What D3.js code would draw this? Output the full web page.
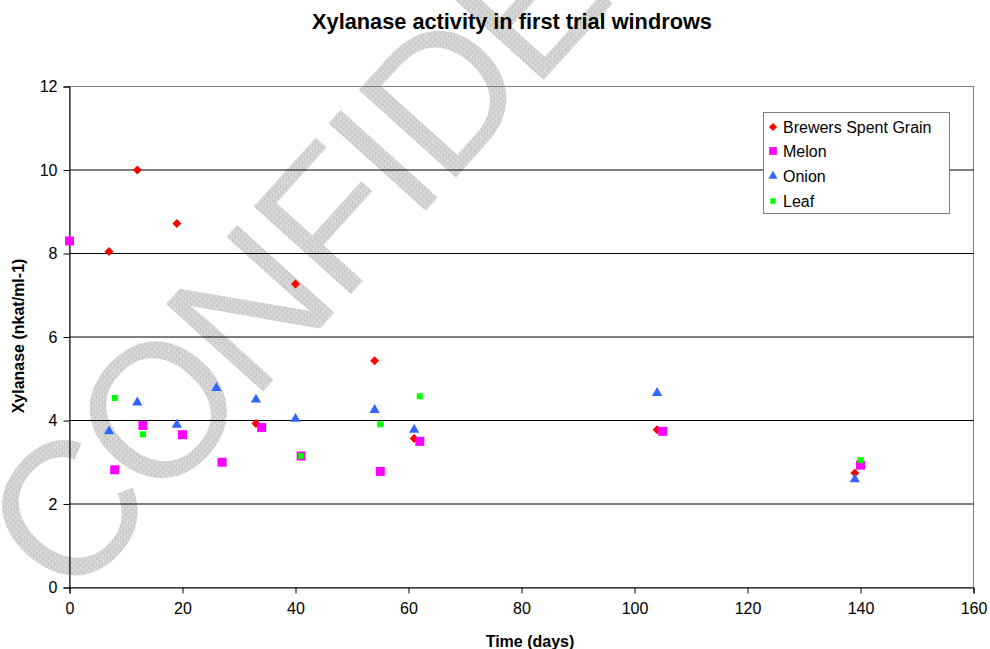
<!DOCTYPE html>
<html>
<head>
<meta charset="utf-8">
<script src="https://cdn.jsdelivr.net/npm/d3@7"></script>
<style>
  body { margin: 0; background: #fff; }
  svg { display: block; }
  text { font-family: Arial, "Liberation Sans", sans-serif; }
</style>
</head>
<body>
<div class="holder"></div>
<script>
// values (day, xylanase)
var grainDays = [7, 12, 19, 33, 40, 54, 61, 104, 139]
var grainVals = [8.05, 10.0, 8.72, 3.93, 7.27, 5.43, 3.57, 3.78, 2.74]

var melonDays = [0, 8, 13, 20, 27, 34, 41, 55, 62, 105, 140]
var melonVals = [8.30, 2.82, 3.88, 3.66, 3.0, 3.83, 3.15, 2.78, 3.5, 3.74, 2.93]

var onionDays = [7, 12, 19, 26, 33, 40, 54, 61, 104, 139]
var onionVals = [3.74, 4.43, 3.9, 4.78, 4.5, 4.04, 4.25, 3.78, 4.66, 2.59]

var leafDays = [8, 13, 41, 55, 62, 140]
var leafVals = [4.54, 3.67, 3.15, 3.91, 4.58, 3.05]

var xTicks = [0, 20, 40, 60, 80, 100, 120, 140, 160]
var yTicks = [0, 2, 4, 6, 8, 10, 12]

var width = 990,
    height = 649

var plotL = 69.5, plotR = 973.5, plotT = 86.5, plotB = 587.5

var x = d3.scaleLinear().domain([0, 160]).range([plotL, plotR])
var y = d3.scaleLinear().domain([0, 12]).range([plotB, plotT])

var svg = d3.select(".holder").append("svg")
    .attr("width", width)
    .attr("height", height)

// stippled grey for the watermark
var defs = svg.append("defs")
var pat = defs.append("pattern")
    .attr("id", "stipple")
    .attr("width", 4).attr("height", 4)
    .attr("patternUnits", "userSpaceOnUse")
pat.append("rect").attr("width", 4).attr("height", 4).attr("fill", "#d6d6d6")
pat.append("rect").attr("x", 0).attr("y", 0).attr("width", 1).attr("height", 1).attr("fill", "#b8b8b8")
pat.append("rect").attr("x", 2).attr("y", 1).attr("width", 1).attr("height", 1).attr("fill", "#c4c4c4")
pat.append("rect").attr("x", 1).attr("y", 3).attr("width", 1).attr("height", 1).attr("fill", "#bcbcbc")
pat.append("rect").attr("x", 3).attr("y", 2).attr("width", 1).attr("height", 1).attr("fill", "#e8e8e8")

// watermark
svg.append("text")
    .attr("transform", "translate(70,606) rotate(-48)")
    .attr("font-size", 190)
    .attr("letter-spacing", -6)
    .attr("fill", "url(#stipple)")
    .text("CONFIDENTIAL")

// plot area border
svg.append("rect")
    .attr("x", plotL).attr("y", plotT)
    .attr("width", plotR - plotL).attr("height", plotB - plotT)
    .attr("fill", "none")
    .attr("stroke", "#808080")

// gridlines
svg.append("g")
    .selectAll("line")
    .data(yTicks.filter(d => d > 0 && d < 12))
    .enter().append("line")
    .attr("x1", plotL).attr("x2", plotR)
    .attr("y1", d => y(d)).attr("y2", d => y(d))
    .attr("stroke", "#000")

// axes
svg.append("g")
    .attr("transform", "translate(0," + plotB + ")")
    .call(d3.axisBottom(x).tickValues(xTicks).tickSize(6).tickPadding(9))
svg.append("g")
    .attr("transform", "translate(" + plotL + ",0)")
    .call(d3.axisLeft(y).tickValues(yTicks).tickSize(6).tickPadding(6))

svg.selectAll(".tick text")
    .attr("font-family", "Arial, 'Liberation Sans', sans-serif")
    .attr("font-size", 16)
    .attr("fill", "#000")
svg.selectAll(".domain, .tick line").attr("stroke", "#000")

// title
var title = svg.append("text")
    .attr("x", 512)
    .attr("y", 29)
    .attr("text-anchor", "middle")
    .attr("font-family", "'DejaVu Sans', sans-serif")
    .attr("font-weight", "bold")
    .attr("font-size", 16)
    .text("Xylanase activity in first trial windrows")
var tl = title.node().getComputedTextLength()
title.attr("font-size", 16 * 400 / tl)

svg.append("text")
    .attr("x", 530)
    .attr("y", 647)
    .attr("text-anchor", "middle")
    .attr("font-weight", "bold")
    .attr("font-size", 16)
    .text("Time (days)")

svg.append("text")
    .attr("transform", "translate(24,336) rotate(-90)")
    .attr("text-anchor", "middle")
    .attr("font-weight", "bold")
    .attr("font-size", 16)
    .text("Xylanase (nkat/ml-1)")

// series
var series = [
    {name: "Brewers Spent Grain", days: grainDays, vals: grainVals, color: "#ff0000", type: d3.symbolSquare, size: 40, rot: 45, lsize: 34},
    {name: "Melon", days: melonDays, vals: melonVals, color: "#ff00ff", type: d3.symbolSquare, size: 81, rot: 0, lsize: 60},
    {name: "Onion", days: onionDays, vals: onionVals, color: "#3366ff", type: d3.symbolTriangle, size: 46, rot: 0, lsize: 36},
    {name: "Leaf", days: leafDays, vals: leafVals, color: "#00ff00", type: d3.symbolSquare, size: 36, rot: 0, lsize: 30}
]

series.forEach(function(s) {
    var pts = s.days.map((d, i) => [d, s.vals[i]])
    svg.append("g")
        .selectAll("path")
        .data(pts)
        .enter().append("path")
        .attr("d", d3.symbol().type(s.type).size(s.size))
        .attr("transform", d => "translate(" + x(d[0]) + "," + y(d[1]) + ") rotate(" + s.rot + ")")
        .attr("fill", s.color)
})

// legend
var legend = svg.append("g")
legend.append("rect")
    .attr("x", 763.5).attr("y", 112.5)
    .attr("width", 186).attr("height", 101)
    .attr("fill", "#fff")
    .attr("stroke", "#808080")

var rowY = [127, 151, 176, 201]
legend.selectAll("path")
    .data(series)
    .enter().append("path")
    .attr("d", s => d3.symbol().type(s.type).size(s.lsize)())
    .attr("transform", (s, i) => "translate(773," + rowY[i] + ") rotate(" + s.rot + ")")
    .attr("fill", s => s.color)

legend.selectAll("text")
    .data(series)
    .enter().append("text")
    .attr("x", 783)
    .attr("y", (s, i) => rowY[i])
    .attr("dy", "0.36em")
    .attr("font-size", 16)
    .text(s => s.name)
</script>
</body>
</html>
